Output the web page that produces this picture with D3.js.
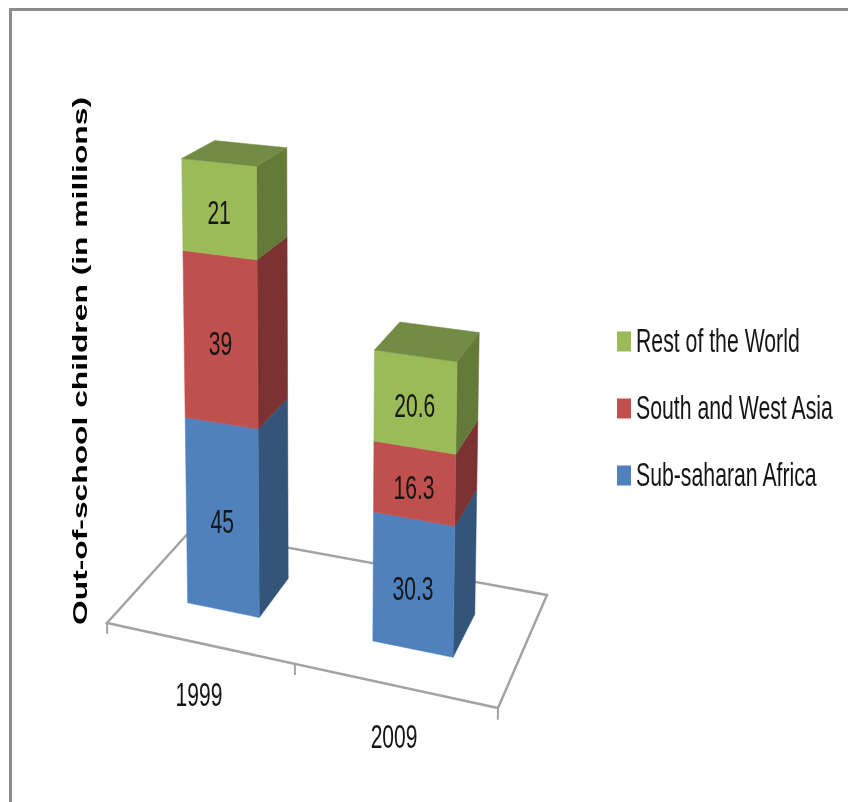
<!DOCTYPE html>
<html>
<head>
<meta charset="utf-8">
<script src="https://cdn.jsdelivr.net/npm/d3@7"></script>
<style>
html, body { margin: 0; padding: 0; background: #fff; }
svg { display: block; }
text { font-family: "Liberation Sans", Arial, sans-serif; fill: #141414; }
</style>
</head>
<body>
<script>
// chart data
var years = ["1999", "2009"];
var seriesNames = ["Sub-saharan Africa", "South and West Asia", "Rest of the World"];
var subSaharan = [45, 30.3];
var southWestAsia = [39, 16.3];
var restOfWorld = [21, 20.6];
var valueLabels = [["45", "30.3"], ["39", "16.3"], ["21", "20.6"]];

var frontColors = ["#4f81bd", "#c0504d", "#9bbb59"];
var sideColors = ["#325579", "#7c3230", "#647a39"];
var topColor = "#728b45";

var width = 848, height = 802;

var svg = d3.select("body").append("svg")
	.attr("width", width)
	.attr("height", height);

// the picture is a soft upscale, so the text gets a slight blur
svg.append("defs").append("filter")
	.attr("id", "soft")
	.append("feGaussianBlur")
	.attr("stdDeviation", "0.45");

// frame, only top and left are inside the picture
svg.append("path")
	.attr("d", "M10.5," + height + "V9.5H" + width)
	.style("fill", "none")
	.style("stroke", "#8c8c8c")
	.style("stroke-width", "3");

// floor corners on screen: front left, front right, back right, back left
var floor = [[107, 623], [498, 708], [547, 595], [191, 530]];
var vanish = [320, 10450]; // where the bar edges meet, far below the page

// homography of the unit square onto the floor
var dx1 = floor[1][0] - floor[2][0], dx2 = floor[3][0] - floor[2][0],
	dy1 = floor[1][1] - floor[2][1], dy2 = floor[3][1] - floor[2][1],
	sx = floor[0][0] - floor[1][0] + floor[2][0] - floor[3][0],
	sy = floor[0][1] - floor[1][1] + floor[2][1] - floor[3][1],
	den = dx1 * dy2 - dx2 * dy1,
	g = (sx * dy2 - dx2 * sy) / den,
	h = (dx1 * sy - sx * dy1) / den,
	a = floor[1][0] - floor[0][0] + g * floor[1][0],
	b = floor[3][0] - floor[0][0] + h * floor[3][0],
	d = floor[1][1] - floor[0][1] + g * floor[1][1],
	e = floor[3][1] - floor[0][1] + h * floor[3][1];

var xScale = d3.scaleBand().domain(years).range([0.003, 1.003]).paddingInner(0.6).paddingOuter(0.3);
var depthScale = d3.scaleLinear().domain([0, 1]).range([0.31, 0.705]);
var valueScale = d3.scaleLinear().domain([0, 105]).range([0, -0.0443]);

// u along the category axis, z into the picture, v = chart value
function project(u, z, v) {
	// bars to the right and further back come out a bit shorter than true perspective
	var q = valueScale(v) * (1 - 0.03 * u - 0.01 * z);
	var w = g * u + h * z + 1 + q;
	return [
		(a * u + b * z + floor[0][0] + q * vanish[0]) / w,
		(d * u + e * z + floor[0][1] + q * vanish[1]) / w
	];
}

var line = d3.line();

// floor and axis ticks
svg.append("path")
	.attr("d", line([
		project(0, 0, 0), project(1, 0, 0), project(1, 1, 0), project(0, 1, 0)
	]) + "Z")
	.style("fill", "none")
	.style("stroke", "#a3a3a3")
	.style("stroke-width", "2.5");

[0, 0.51, 1].forEach(function (u) {
	svg.append("path")
		.attr("d", line([project(u, 0, 0), project(u, 0, -2.6)]))
		.style("fill", "none")
		.style("stroke", "#a3a3a3")
		.style("stroke-width", "2");
});

// stack the series
var table = years.map(function (year, i) {
	return { year: year, a: subSaharan[i], b: southWestAsia[i], c: restOfWorld[i] };
});
var stacked = d3.stack().keys(["a", "b", "c"])(table);

function face(points, color) {
	svg.append("path")
		.attr("d", line(points) + "Z")
		.style("fill", color)
		.style("stroke", color)
		.style("stroke-width", "0.5");
}

// condensed text, squeezed the way the picture is
function label(x, y, str, anchor, sx) {
	svg.append("text")
		.attr("transform", "translate(" + x + "," + y + ") scale(" + sx + ",1)")
		.attr("text-anchor", anchor)
		.attr("dy", "0.36em")
		.attr("filter", "url(#soft)")
		.style("font-size", "34px")
		.text(str);
}

years.forEach(function (year, i) {
	var u0 = xScale(year), u1 = u0 + xScale.bandwidth();
	var z0 = depthScale(0), z1 = depthScale(1);

	stacked.forEach(function (layer, s) {
		var lo = layer[i][0], hi = layer[i][1];
		face([project(u1, z0, lo), project(u1, z1, lo), project(u1, z1, hi), project(u1, z0, hi)], sideColors[s]);
		face([project(u0, z0, lo), project(u1, z0, lo), project(u1, z0, hi), project(u0, z0, hi)], frontColors[s]);
	});

	var total = stacked[stacked.length - 1][i][1];
	face([project(u0, z0, total), project(u1, z0, total), project(u1, z1, total), project(u0, z1, total)], topColor);

	stacked.forEach(function (layer, s) {
		var p = project((u0 + u1) / 2, z0, (layer[i][0] + layer[i][1]) / 2);
		label(p[0], p[1] + 3, valueLabels[s][i], "middle", 0.62);
	});

	// category label under the front edge
	var c = project(u0 + xScale.bandwidth() / 2, 0, 0);
	label(c[0] + 1.5, c[1] + 51, year, "middle", 0.62);
});

// legend, top entry is the last series
var legendY = d3.scalePoint().domain(seriesNames.slice().reverse()).range([340, 474]);

seriesNames.forEach(function (name, s) {
	svg.append("rect")
		.attr("x", 617)
		.attr("y", legendY(name) - 8.5)
		.attr("width", 14)
		.attr("height", 20)
		.style("fill", frontColors[s]);
	label(636, legendY(name), name, "start", 0.625);
});

// y axis title
svg.append("text")
	.attr("transform", "translate(87,625) rotate(-90)")
	.attr("textLength", 528)
	.attr("lengthAdjust", "spacingAndGlyphs")
	.attr("filter", "url(#soft)")
	.style("font-size", "20px")
	.style("font-weight", "bold")
	.style("fill", "#000")
	.text("Out-of-school children (in millions)");
</script>
</body>
</html>
